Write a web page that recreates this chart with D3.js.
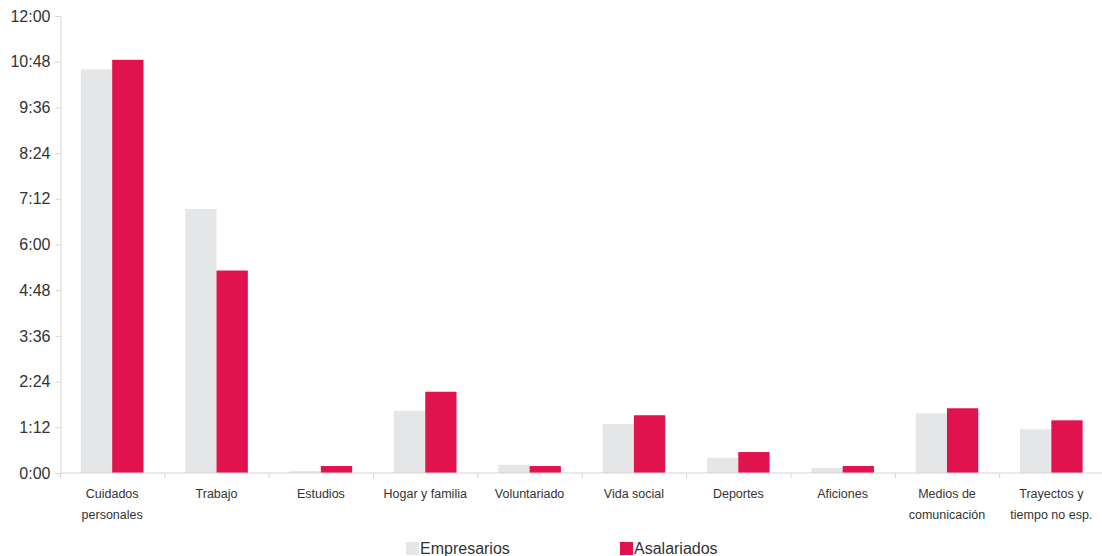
<!DOCTYPE html>
<html>
<head>
<meta charset="utf-8">
<script src="https://cdn.jsdelivr.net/npm/d3@7"></script>
<style>
  body { margin: 0; background: #fff; }
  svg { display: block; font-family: "Liberation Sans", Arial, sans-serif; }
</style>
</head>
<body>
<div id="chart"></div>
<script>
// activities (two-line labels split with "|")
var categories = ["Cuidados|personales", "Trabajo", "Estudios", "Hogar y familia", "Voluntariado",
  "Vida social", "Deportes", "Aficiones", "Medios de|comunicación", "Trayectos y|tiempo no esp."];

// average daily time, in minutes
var empresarios = [636, 416, 3, 98, 13, 77, 24, 8, 94, 69];
var asalariados = [651, 319, 11, 128, 11, 91, 33, 11, 102, 83];

var seriesNames = ["Empresarios", "Asalariados"];
var seriesColors = ["#e5e6e8", "#e1134f"];

// y ticks every 1:12
var yTicks = d3.range(0, 721, 72);

var width = 1102,
    height = 556,
    margin = {top: 16, right: -2, bottom: 83, left: 60.5};

var svg = d3.select("#chart").append("svg")
    .attr("width", width)
    .attr("height", height);

var x = d3.scaleBand()
    .domain(categories)
    .range([margin.left - 0.5, width - margin.right - 0.5])
    .paddingInner(0.4)
    .paddingOuter(0.2);

var xInner = d3.scaleBand()
    .domain(seriesNames)
    .range([0, x.bandwidth()]);

var y = d3.scaleLinear()
    .domain([0, 720])
    .range([height - margin.bottom, margin.top]);

function fmt(m) {
  var h = Math.floor(m / 60), mm = m % 60;
  return h + ":" + (mm < 10 ? "0" : "") + mm;
}

var axisColor = "#d9d4ce";

// bars
var rows = categories.map(function(c, i) {
  return {cat: c, values: [empresarios[i], asalariados[i]]};
});

var group = svg.append("g").selectAll("g")
    .data(rows)
    .enter().append("g")
    .attr("transform", d => "translate(" + x(d.cat) + ",0)");

group.selectAll("rect")
    .data(d => d.values.map((v, k) => ({name: seriesNames[k], value: v, k: k})))
    .enter().append("rect")
    .attr("x", d => xInner(d.name))
    .attr("width", xInner.bandwidth())
    .attr("y", d => y(d.value))
    .attr("height", d => y(0) - y(d.value))
    .attr("fill", d => seriesColors[d.k]);

// y axis
var yAxis = svg.append("g")
    .attr("transform", "translate(" + margin.left + ",0)")
    .call(d3.axisLeft(y).tickValues(yTicks).tickFormat(fmt).tickSize(5).tickPadding(5));
yAxis.select(".domain").attr("stroke", axisColor);
yAxis.selectAll(".tick line").attr("stroke", axisColor);
yAxis.selectAll("text")
    .attr("fill", "#333")
    .style("font-size", "16px");

// x axis baseline with boundary ticks
var step = x.step();
var xb = svg.append("g");
xb.append("line")
    .attr("x1", margin.left).attr("x2", width)
    .attr("y1", y(0)).attr("y2", y(0))
    .attr("stroke", axisColor);
xb.selectAll(".bt")
    .data(d3.range(categories.length + 1))
    .enter().append("line")
    .attr("x1", i => margin.left + i * step)
    .attr("x2", i => margin.left + i * step)
    .attr("y1", y(0)).attr("y2", y(0) + 5)
    .attr("stroke", axisColor);

// category labels
var labels = svg.append("g").selectAll("text")
    .data(categories)
    .enter().append("text")
    .attr("x", d => x(d) + x.bandwidth() / 2)
    .attr("y", y(0) + 25)
    .attr("text-anchor", "middle")
    .attr("fill", "#333")
    .style("font-size", "12.5px");

labels.selectAll("tspan")
    .data(d => d.split("|"))
    .enter().append("tspan")
    .attr("x", function() { return this.parentNode.getAttribute("x"); })
    .attr("dy", (d, i) => i === 0 ? 0 : 20.5)
    .text(d => d);

// legend
var legendX = [406, 620];
var legend = svg.append("g").selectAll("g")
    .data(seriesNames)
    .enter().append("g")
    .attr("transform", (d, i) => "translate(" + legendX[i] + ",542)");
legend.append("rect")
    .attr("width", 13).attr("height", 13)
    .attr("fill", (d, i) => seriesColors[i]);
legend.append("text")
    .attr("x", 14).attr("y", 12)
    .attr("fill", "#333")
    .style("font-size", "16px")
    .text(d => d);
</script>
</body>
</html>
